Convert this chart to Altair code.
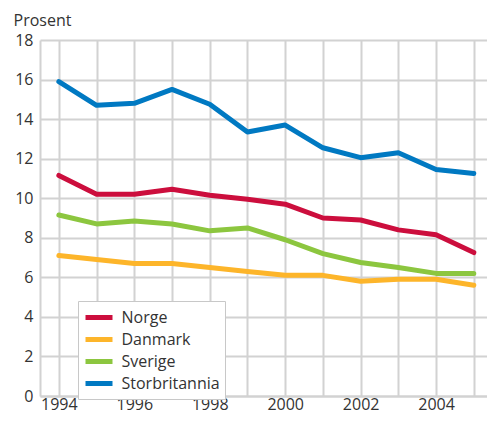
import altair as alt
import pandas as pd

years = list(range(1994, 2006))
norge = [11.15, 10.2, 10.2, 10.45, 10.15, 9.95, 9.7, 9.0, 8.9, 8.4, 8.15, 7.25]
danmark = [7.1, 6.9, 6.7, 6.7, 6.5, 6.3, 6.1, 6.1, 5.8, 5.9, 5.9, 5.6]
sverige = [9.15, 8.7, 8.85, 8.7, 8.35, 8.5, 7.9, 7.2, 6.75, 6.5, 6.2, 6.2]
storbritannia = [15.9, 14.7, 14.8, 15.5, 14.75, 13.35, 13.7, 12.55, 12.05, 12.3, 11.45, 11.25]

series_names = ["Norge", "Danmark", "Sverige", "Storbritannia"]
series_colors = ["#cc0e3d", "#fdb52a", "#8cc63f", "#0079c2"]
series_values = [norge, danmark, sverige, storbritannia]

rows = []
for name, vals in zip(series_names, series_values):
    for y, v in zip(years, vals):
        rows.append({"year": y, "value": v, "series": name})
df = pd.DataFrame(rows)

FONT = "Open Sans"
GRID = "#d2d2d2"

chart = alt.Chart(df).mark_line(strokeWidth=5, strokeCap="round", strokeJoin="round").encode(
    x=alt.X("year:Q",
            scale=alt.Scale(domain=[1993.5, 2005.35], nice=False, zero=False),
            axis=alt.Axis(values=years, labelExpr="datum.value % 2 == 0 ? datum.value : ''",
                          title=None, grid=True, gridColor=GRID, gridWidth=2,
                          domainColor=GRID, domainWidth=2, ticks=False,
                          labelFontSize=16, labelFont=FONT, labelColor="#333333",
                          labelPadding=0, labelFlush=False)),
    y=alt.Y("value:Q",
            scale=alt.Scale(domain=[0, 18], nice=False),
            axis=alt.Axis(values=list(range(0, 19, 2)), title="Prosent",
                          titleAngle=0, titleAlign="left", titleBaseline="alphabetic",
                          titleX=-27, titleY=-15, titleFont=FONT, titleFontSize=16,
                          titleFontWeight="normal", titleColor="#333333",
                          grid=True, gridColor=GRID, gridWidth=2,
                          domainColor=GRID, domainWidth=2, ticks=False,
                          labelFontSize=16, labelFont=FONT, labelColor="#333333",
                          labelPadding=7)),
    color=alt.Color("series:N",
                    scale=alt.Scale(domain=series_names, range=series_colors),
                    legend=alt.Legend(title=None, orient="none", legendX=38, legendY=261,
                                      symbolType="M-1.5,0L1.5,0", symbolSize=324,
                                      symbolStrokeWidth=5, symbolOffset=4.5,
                                      labelFont=FONT, labelFontSize=16, labelColor="#333333",
                                      fillColor="white", strokeColor="#c8c8c8",
                                      padding=5, rowPadding=0, labelOffset=11)),
    order=alt.Order("series:N"),
).properties(
    width=447, height=356,
    autosize=alt.AutoSizeParams(type="none"),
    padding={"left": 32, "top": 32, "right": 0, "bottom": 20},
).configure_view(stroke=None)

chart.save("out.html", embed_options={"renderer": "svg", "actions": False})
